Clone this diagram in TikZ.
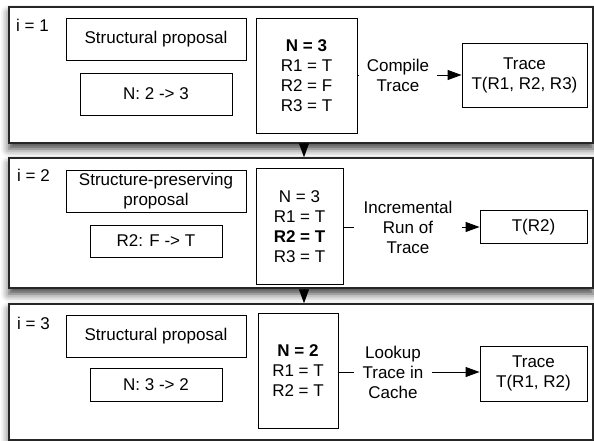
\documentclass[tikz,border=0pt]{standalone}
\usepackage{fontspec}
\setmainfont{Liberation Sans}
\usetikzlibrary{arrows.meta,shadows.blur}

\begin{document}
\begin{tikzpicture}[x=1pt,y=-1pt,
  every node/.style={font=\fontsize{17}{20}\selectfont, inner sep=0pt},
  panel/.style={draw=black!85, line width=1.5pt, fill=white,
    blur shadow={shadow xshift=0pt, shadow yshift=-6pt,
                 shadow blur radius=8pt, shadow opacity=75}},
  box/.style={draw, line width=0.9pt, align=center},
  steplabel/.style={fill=white, align=center, inner xsep=8pt, inner ysep=2pt},
  link/.style={line width=0.9pt},
  flow/.style={line width=0.9pt, -{Triangle[length=14pt,width=10pt]}},
]
\useasboundingbox (0,0) rectangle (594,441);

% ---- iteration panels ----
\node[panel, minimum width=584pt, minimum height=136pt] (p1) at (301,75) {};
\node[panel, minimum width=584pt, minimum height=130pt] (p2) at (301,223) {};
\node[panel, minimum width=584pt, minimum height=136pt] (p3) at (301,372) {};

% ---- i = 1 ----
\node[anchor=west] (i1) at (16,25) {i = 1};
\node[box, minimum width=180pt, minimum height=42pt] (sp1) at (156,39) {Structural proposal};
\node[box, minimum width=152pt, minimum height=42pt] (nc1) at (156,94) {N: 2 -> 3};
\node[box, minimum width=101pt, minimum height=115pt] (st1) at (306.5,75.5)
  {\textbf{N = 3}\\R1 = T\\R2 = F\\R3 = T};
\node[steplabel] (lab1) at (398,75) {Compile\\Trace};
\node[box, minimum width=125pt, minimum height=64pt] (tr1) at (524.5,75)
  {Trace\\T(R1, R2, R3)};
\draw[link] (st1.east |- lab1.west) -- (lab1.west);
\draw[flow] (lab1.east) -- (tr1.west |- lab1.east);

% ---- i = 2 ----
\node[anchor=west] (i2) at (17,175) {i = 2};
\node[box, minimum width=180pt, minimum height=42pt] (sp2) at (156,191)
  {Structure-preserving\\proposal};
\node[box, minimum width=132pt, minimum height=32pt] (nc2) at (156,241) {R2: F -> T};
\node[box, minimum width=87pt, minimum height=116pt] (st2) at (299.5,226.5)
  {N = 3\\R1 = T\\\textbf{R2 = T}\\R3 = T};
\node[steplabel, inner xsep=9pt] (lab2) at (408,227) {Incremental\\Run of\\Trace};
\node[box, minimum width=107pt, minimum height=33pt] (tr2) at (533.5,227) {T(R2)};
\draw[link] (st2.east |- lab2.west) -- (lab2.west);
\draw[flow] (lab2.east) -- (tr2.west |- lab2.east);

% ---- i = 3 ----
\node[anchor=west] (i3) at (17,323) {i = 3};
\node[box, minimum width=180pt, minimum height=42pt] (sp3) at (156,336) {Structural proposal};
\node[box, minimum width=132pt, minimum height=33pt] (nc3) at (156,384.5) {N: 3 -> 2};
\node[box, minimum width=80pt, minimum height=115pt] (st3) at (298,370.5)
  {\textbf{N = 2}\\R1 = T\\R2 = T};
\node[steplabel] (lab3) at (393,372) {Lookup\\Trace in\\Cache};
\node[box, minimum width=107pt, minimum height=55pt] (tr3) at (533.5,373.5)
  {Trace\\T(R1, R2)};
\draw[link] (st3.east |- lab3.west) -- (lab3.west);
\draw[flow] (lab3.east) -- (tr3.west |- lab3.east);

% ---- hand-over between iterations ----
\coordinate (down) at (304,0);
\draw[flow] (p1.south -| down) -- (p2.north -| down);
\draw[flow] (p2.south -| down) -- (p3.north -| down);
\end{tikzpicture}
\end{document}
